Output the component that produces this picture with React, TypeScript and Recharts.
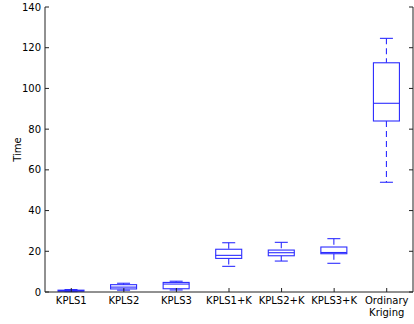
import React from 'react';
import { ComposedChart, Bar, Line, XAxis, YAxis } from 'recharts';

// box plot statistics
const categories = ['KPLS1', 'KPLS2', 'KPLS3', 'KPLS1+K', 'KPLS2+K', 'KPLS3+K', 'Ordinary Kriging'];
const whiskerLow = [0.2, 0.9, 1.0, 12.6, 15.2, 14.1, 53.9];
const q1 = [0.4, 1.5, 1.6, 16.5, 17.8, 18.8, 84.0];
const median = [0.6, 2.4, 3.9, 18.0, 19.3, 19.4, 92.7];
const q3 = [0.9, 3.6, 4.7, 21.0, 20.6, 22.1, 112.6];
const whiskerHigh = [1.2, 4.3, 5.3, 24.2, 24.4, 26.2, 124.6];
const yTicks = [0, 20, 40, 60, 80, 100, 120, 140];

const data = categories.map((name, i) => ({
  name,
  lo: whiskerLow[i],
  q1: q1[i],
  med: median[i],
  q3: q3[i],
  hi: whiskerHigh[i],
  range: [whiskerLow[i], whiskerHigh[i]],
}));

const BLUE = '#2d2dff';
const FRAME = '#222';
const FONT = 'DejaVu Sans';

const BoxShape = (props: any) => {
  const { x, y, width, height, payload } = props;
  const top = Math.min(y, y + height);
  const h = Math.abs(height);
  const span = payload.hi - payload.lo || 1;
  const toY = (v: number) => top + h - ((v - payload.lo) / span) * h;
  const cx = x + width / 2;
  const cap = width / 4;
  const yQ1 = toY(payload.q1);
  const yQ3 = toY(payload.q3);
  return (
    <g stroke={BLUE} strokeWidth={1.1} fill="none">
      <line x1={cx} x2={cx} y1={top} y2={yQ3} strokeDasharray="6 4" />
      <line x1={cx} x2={cx} y1={yQ1} y2={top + h} strokeDasharray="6 4" />
      <line x1={cx - cap} x2={cx + cap} y1={top} y2={top} />
      <line x1={cx - cap} x2={cx + cap} y1={top + h} y2={top + h} />
      <rect x={x} y={yQ3} width={width} height={Math.max(yQ1 - yQ3, 0.5)} />
      <line x1={x} x2={x + width} y1={toY(payload.med)} y2={toY(payload.med)} />
    </g>
  );
};

const LeftTick = (props: any) => {
  const { x, y, payload } = props;
  return (
    <g>
      <line x1={x} x2={x + 4} y1={y} y2={y} stroke={FRAME} />
      <text x={x - 4} y={y} dy="0.35em" textAnchor="end" fontSize={10} fontFamily={FONT} fill="#000">
        {payload.value}
      </text>
    </g>
  );
};

const RightTick = (props: any) => {
  const { x, y } = props;
  return <line x1={x - 4} x2={x} y1={y} y2={y} stroke={FRAME} />;
};

const BottomTick = (props: any) => {
  const { x, y, payload } = props;
  const lines = String(payload.value).split(' ');
  return (
    <g>
      <line x1={x} x2={x} y1={y} y2={y - 4} stroke={FRAME} />
      <text x={x} y={y + 12} textAnchor="middle" fontSize={10} fontFamily={FONT} fill="#000">
        {lines.map((l, i) => (
          <tspan key={i} x={x} dy={i === 0 ? 0 : 12}>
            {l}
          </tspan>
        ))}
      </text>
    </g>
  );
};

const TopTick = (props: any) => {
  const { x, y } = props;
  return <line x1={x} x2={x} y1={y} y2={y + 4} stroke={FRAME} />;
};

const YLabel = (props: any) => {
  const vb = props.viewBox || { x: 0, y: 7, height: 285 };
  const cy = vb.y + vb.height / 2;
  return (
    <text x={21} y={cy} transform={`rotate(-90 21 ${cy})`} textAnchor="middle" fontSize={10} fontFamily={FONT} fill="#000">
      Time
    </text>
  );
};

export default function App() {
  return (
    <div style={{ position: 'absolute', left: 0, top: 0, background: '#fff' }}>
      <ComposedChart width={414} height={324} data={data} margin={{ top: 7, right: 0, bottom: 0, left: 0 }}>
        <XAxis
          xAxisId="bottom"
          dataKey="name"
          orientation="bottom"
          height={32}
          tickSize={0}
          tickMargin={0}
          tickLine={false}
          axisLine={{ stroke: FRAME }}
          tick={<BottomTick />}
          interval={0}
        />
        <XAxis
          xAxisId="top"
          dataKey="name"
          orientation="top"
          height={0}
          tickSize={0}
          tickMargin={0}
          tickLine={false}
          axisLine={{ stroke: FRAME }}
          tick={<TopTick />}
          interval={0}
        />
        <YAxis
          yAxisId="left"
          width={45}
          domain={[0, 140]}
          ticks={yTicks}
          tickSize={0}
          tickMargin={0}
          tickLine={false}
          axisLine={{ stroke: FRAME }}
          tick={<LeftTick />}
          interval={0}
          label={<YLabel />}
        />
        <YAxis
          yAxisId="right"
          orientation="right"
          width={1}
          domain={[0, 140]}
          ticks={yTicks}
          tickSize={0}
          tickMargin={0}
          tickLine={false}
          axisLine={{ stroke: FRAME }}
          tick={<RightTick />}
          interval={0}
        />
        <Bar
          xAxisId="bottom"
          yAxisId="left"
          dataKey="range"
          barSize={26}
          shape={<BoxShape />}
          isAnimationActive={false}
        />
        <Line
          xAxisId="top"
          yAxisId="right"
          dataKey="med"
          stroke="none"
          dot={false}
          activeDot={false}
          isAnimationActive={false}
        />
      </ComposedChart>
    </div>
  );
}
